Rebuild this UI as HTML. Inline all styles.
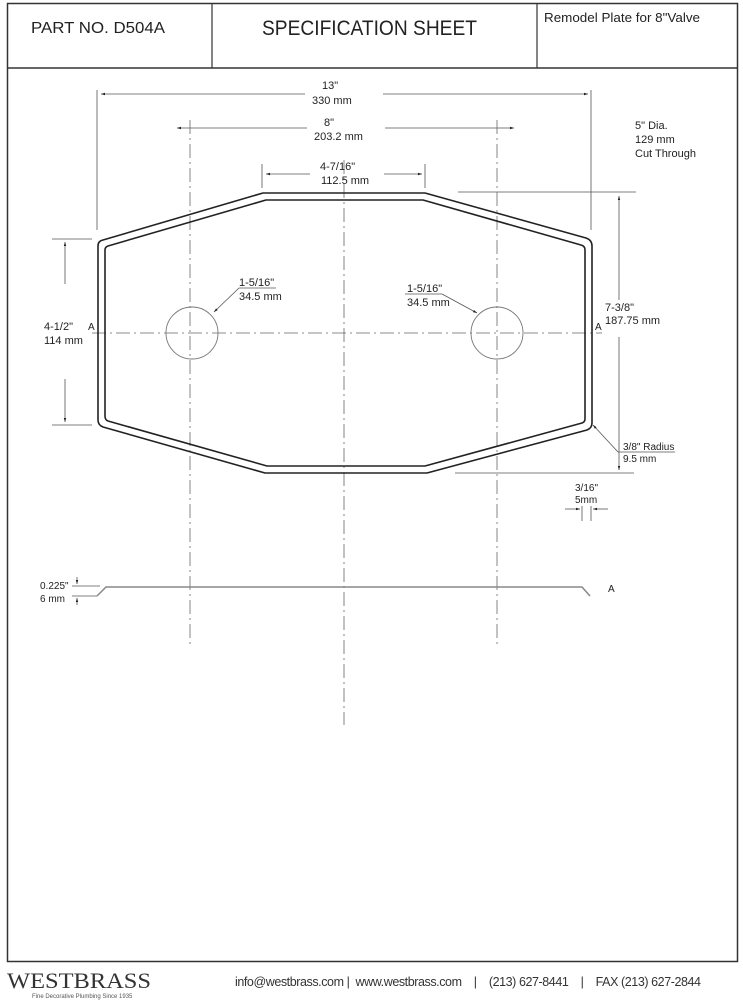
<!DOCTYPE html>
<html><head><meta charset="utf-8"><style>
body{margin:0;background:#fff;width:743px;height:1000px;overflow:hidden;font-family:"Liberation Sans",sans-serif}
svg{display:block}
</style></head><body>
<svg width="743" height="1000" viewBox="0 0 743 1000" xmlns="http://www.w3.org/2000/svg" font-family="Liberation Sans, sans-serif" fill="#222">
<defs><marker id="a" viewBox="0 0 10 10" refX="10" refY="5" markerWidth="5" markerHeight="5" orient="auto-start-reverse"><path d="M0,2L10,5L0,8z" fill="#222"/></marker></defs>
<rect x="7.5" y="3.5" width="730" height="958" fill="none" stroke="#333" stroke-width="1.5"/>
<line x1="7" y1="68" x2="738" y2="68" stroke="#333" stroke-width="1.5"/>
<line x1="212" y1="3" x2="212" y2="68" stroke="#333" stroke-width="1.2"/>
<line x1="537" y1="3" x2="537" y2="68" stroke="#333" stroke-width="1.2"/>
<text x="31" y="33" font-size="16" textLength="134" lengthAdjust="spacingAndGlyphs">PART NO.  D504A</text>
<text x="262" y="35" font-size="21" textLength="215" lengthAdjust="spacingAndGlyphs">SPECIFICATION SHEET</text>
<text x="544" y="22" font-size="13" textLength="156" lengthAdjust="spacingAndGlyphs">Remodel Plate for  8"Valve</text>
<g stroke="#555" stroke-width="0.8" fill="none">
<line x1="97" y1="90" x2="97" y2="230"/><line x1="591" y1="90" x2="591" y2="230"/>
<line x1="101" y1="94" x2="305" y2="94" marker-start="url(#a)"/><line x1="383" y1="94" x2="588" y2="94" marker-end="url(#a)"/>
<line x1="177" y1="128" x2="307" y2="128" marker-start="url(#a)"/><line x1="385" y1="128" x2="514" y2="128" marker-end="url(#a)"/>
<line x1="262" y1="164" x2="262" y2="188"/><line x1="425" y1="164" x2="425" y2="188"/>
<line x1="266" y1="174" x2="310" y2="174" marker-start="url(#a)"/><line x1="384" y1="174" x2="422" y2="174" marker-end="url(#a)"/>
<line x1="458" y1="192" x2="636" y2="192"/><line x1="455" y1="473" x2="634" y2="473"/>
<line x1="619" y1="196" x2="619" y2="300" marker-start="url(#a)"/><line x1="619" y1="337" x2="619" y2="470" marker-end="url(#a)"/>
<line x1="52" y1="239" x2="92" y2="239"/><line x1="52" y1="425" x2="92" y2="425"/>
<line x1="65" y1="242" x2="65" y2="284" marker-start="url(#a)"/><line x1="65" y1="379" x2="65" y2="422" marker-end="url(#a)"/>
<line x1="239" y1="288" x2="214" y2="312" marker-end="url(#a)"/><line x1="239" y1="288" x2="276" y2="288"/>
<line x1="442" y1="294" x2="477" y2="313" marker-end="url(#a)"/><line x1="405" y1="294" x2="442" y2="294"/>
<line x1="618" y1="452" x2="593" y2="425" marker-end="url(#a)"/><line x1="618" y1="452" x2="675" y2="452"/>
<line x1="582" y1="506" x2="582" y2="521"/><line x1="591" y1="506" x2="591" y2="521"/>
<line x1="565" y1="509" x2="580" y2="509" marker-end="url(#a)"/><line x1="608" y1="509" x2="593" y2="509" marker-end="url(#a)"/>
<line x1="77" y1="577" x2="77" y2="584" marker-end="url(#a)"/><line x1="77" y1="605" x2="77" y2="598" marker-end="url(#a)"/>
<line x1="72" y1="586" x2="100" y2="586"/><line x1="72" y1="596" x2="97" y2="596"/>
</g>
<g stroke="#666" stroke-width="0.8" fill="none" stroke-dasharray="14,4,2,4">
<line x1="344" y1="160" x2="344" y2="725"/>
<line x1="190" y1="120" x2="190" y2="645"/>
<line x1="497" y1="120" x2="497" y2="645"/>
<line x1="92" y1="333" x2="602" y2="333"/>
</g>
<g stroke="#777" stroke-width="0.9" fill="none">
<circle cx="192" cy="333" r="26"/><circle cx="497" cy="333" r="26"/>
</g>
<g stroke="#222" stroke-width="1.6" fill="none" stroke-linejoin="round">
<path d="M263,193 L425,193 L586,238 Q592,240 592,246 L592,423 Q592,428 587,430 L427,473 L265,473 L103,427 Q98,425 98,420 L98,246 Q98,241 103,240 Z"/>
<path d="M266,200 L423,200 L581,245 Q585,246 585,250 L585,419 Q585,422 582,423 L425,466 L267,466 L108,421 Q105,420 105,416 L105,250 Q105,247 108,246 Z"/>
</g>
<g stroke="#888" stroke-width="1.5" fill="none"><path d="M97,596 L106,587 L582,587 L590,596"/></g>
<g font-size="11">
<text x="322" y="89">13"</text><text x="312" y="104">330 mm</text>
<text x="324" y="126">8"</text><text x="314" y="140">203.2 mm</text>
<text x="320" y="170">4-7/16"</text><text x="321" y="184">112.5 mm</text>
<text x="635" y="129">5" Dia.</text><text x="635" y="143">129 mm</text><text x="635" y="157">Cut Through</text>
<text x="239" y="286">1-5/16"</text><text x="239" y="300">34.5 mm</text>
<text x="407" y="292">1-5/16"</text><text x="407" y="306">34.5 mm</text>
<text x="605" y="311">7-3/8"</text><text x="605" y="324">187.75 mm</text>
<text x="44" y="330">4-1/2"</text><text x="44" y="344">114 mm</text>
<text x="88" y="330" font-size="10">A</text><text x="595" y="330" font-size="10">A</text>
<text x="623" y="450" font-size="10">3/8" Radius</text><text x="623" y="462" font-size="10">9.5 mm</text>
<text x="575" y="491" font-size="10">3/16"</text><text x="575" y="503" font-size="10">5mm</text>
<text x="40" y="589" font-size="10">0.225"</text><text x="40" y="602" font-size="10">6 mm</text>
<text x="608" y="592" font-size="10">A</text>
</g>
<text x="7" y="988" font-family="Liberation Serif, serif" font-size="22" fill="#333" textLength="144" lengthAdjust="spacingAndGlyphs">WESTBRASS</text>
<text x="32" y="998" font-size="6" fill="#555">Fine Decorative Plumbing Since 1935</text>
<text x="235" y="986" font-size="12.5" fill="#333" xml:space="preserve" textLength="466" lengthAdjust="spacing">info@westbrass.com |  www.westbrass.com    |    (213) 627-8441    |    FAX (213) 627-2844</text>
</svg>
</body></html>
